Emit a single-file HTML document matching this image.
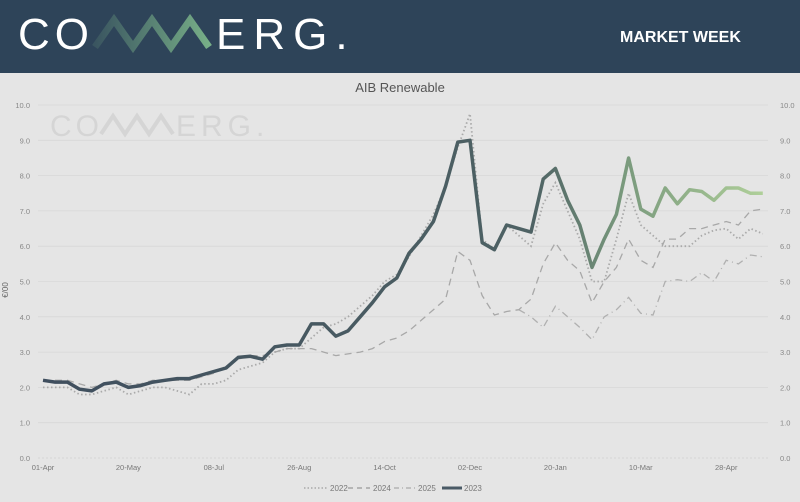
<!DOCTYPE html>
<html><head><meta charset="utf-8"><style>
body{margin:0;width:800px;height:497px;background:#e5e5e5;font-family:"Liberation Sans",sans-serif;overflow:hidden}
</style></head><body>
<svg width="800" height="497" xmlns="http://www.w3.org/2000/svg" font-family="Liberation Sans, sans-serif">
<defs>
<linearGradient id="lg" gradientUnits="userSpaceOnUse" x1="95" y1="0" x2="210" y2="0"><stop offset="0" stop-color="#3a5560"/><stop offset="1" stop-color="#78b088"/></linearGradient>
<linearGradient id="sg" gradientUnits="userSpaceOnUse" x1="43" y1="0" x2="765" y2="0">
<stop offset="0" stop-color="#3f4e5e"/><stop offset="0.68" stop-color="#4e6264"/><stop offset="0.8" stop-color="#78987c"/><stop offset="1" stop-color="#b0d09a"/></linearGradient>
</defs>
<rect x="0" y="0" width="800" height="73" fill="#2e4459"/>
<text x="18" y="49" font-size="44" fill="#fff" letter-spacing="5">CO</text>
<polyline points="95,47 114,20 133,47 152,20 171,47 190,20 209,47" fill="none" stroke="url(#lg)" stroke-width="7" stroke-linejoin="miter"/>
<text x="216" y="49" font-size="44" fill="#fff" letter-spacing="8">ERG.</text>
<text x="620" y="42" font-size="16" fill="#fff" font-weight="bold">MARKET WEEK</text>
<text x="400" y="92" font-size="13" fill="#555" text-anchor="middle">AIB Renewable</text>
<text x="50" y="136" font-size="30" fill="#d5d5d5" letter-spacing="4">CO</text>
<polyline points="101,134 113,116 125,134 137,116 149,134 161,116 173,134" fill="none" stroke="#d5d5d5" stroke-width="4"/>
<text x="176" y="136" font-size="30" fill="#d5d5d5" letter-spacing="5">ERG.</text>
<g id="grid"></g>
<g id="series"></g>
<text x="8" y="290" font-size="8" fill="#666" transform="rotate(-90 8 290)" text-anchor="middle">€/00</text>
<g font-size="8" fill="#777">
<line x1="304" y1="488" x2="328" y2="488" stroke="#aaa" stroke-width="1.5" stroke-dasharray="1.5,2"/><text x="330" y="491">2022</text>
<line x1="348" y1="488" x2="370" y2="488" stroke="#999" stroke-width="1.2" stroke-dasharray="5,4"/><text x="373" y="491">2024</text>
<line x1="394" y1="488" x2="416" y2="488" stroke="#aaa" stroke-width="1.2" stroke-dasharray="5,3,1,3"/><text x="418" y="491">2025</text>
<line x1="442" y1="488" x2="462" y2="488" stroke="#4a5a66" stroke-width="3"/><text x="464" y="491">2023</text>
</g>
</svg>
<script>
const X=i=>43+i*12.2, Y=v=>458-v*35.3;
let g=document.getElementById('grid'),h='';
for(let v=0;v<=10;v++){let y=Y(v);h+=`<line x1="38" x2="768" y1="${y}" y2="${y}" stroke="${v==0?'#d0d0d0':'#d8d8d8'}" stroke-width="0.8" ${v==0?'stroke-dasharray="2,2"':''}/>`;
h+=`<text x="30" y="${y+3}" font-size="7.5" fill="#888" text-anchor="end">${v.toFixed(1)}</text><text x="780" y="${y+3}" font-size="7.5" fill="#888">${v.toFixed(1)}</text>`;}
const lab=["01-Apr","20-May","08-Jul","26-Aug","14-Oct","02-Dec","20-Jan","10-Mar","28-Apr"];
lab.forEach((l,k)=>{h+=`<text x="${X(k*7)}" y="470" font-size="7.5" fill="#777" text-anchor="middle">${l}</text>`});
g.innerHTML=h;
const s23=[2.2,2.15,2.15,1.95,1.9,2.1,2.15,2.0,2.05,2.15,2.2,2.25,2.25,2.35,2.45,2.55,2.85,2.88,2.8,3.15,3.2,3.2,3.8,3.8,3.45,3.6,4.0,4.4,4.85,5.1,5.8,6.2,6.7,7.7,8.95,9.0,6.1,5.9,6.6,6.5,6.4,7.9,8.2,7.3,6.6,5.4,6.2,6.9,8.5,7.05,6.85,7.65,7.2,7.6,7.55,7.3,7.65,7.65,7.5,7.5];
const s22=[2.0,2.0,2.0,1.8,1.8,1.9,2.0,1.8,1.9,2.0,2.0,1.9,1.8,2.1,2.1,2.2,2.5,2.6,2.7,3.0,3.1,3.1,3.4,3.7,3.8,4.0,4.3,4.6,5.0,5.2,5.7,6.3,6.9,7.7,8.8,9.75,6.2,5.9,6.6,6.3,6.0,7.2,7.8,7.0,6.2,5.0,5.0,6.2,7.5,6.6,6.3,6.0,6.0,6.0,6.3,6.45,6.5,6.2,6.5,6.35];
const s24=[2.2,2.2,2.2,2.1,2.0,2.1,2.2,2.1,2.1,2.2,2.2,2.2,2.2,2.3,2.4,2.6,2.8,2.9,2.9,3.0,3.1,3.1,3.1,3.0,2.9,2.95,3.0,3.1,3.3,3.4,3.6,3.9,4.2,4.5,5.85,5.6,4.6,4.05,4.15,4.2,4.5,5.5,6.1,5.6,5.3,4.4,5.0,5.4,6.2,5.6,5.4,6.2,6.2,6.5,6.5,6.6,6.7,6.6,7.0,7.05];
const s25=[];for(let i=0;i<39;i++)s25.push(null);
[4.2,4.0,3.7,4.3,4.0,3.7,3.35,4.0,4.2,4.55,4.1,4.05,5.0,5.05,5.0,5.25,5.0,5.6,5.5,5.75,5.7].forEach(v=>s25.push(v));
function path(a){let d='';a.forEach((v,i)=>{if(v==null)return;d+=(d?'L':'M')+X(i).toFixed(1)+','+Y(v).toFixed(1)});return d}
document.getElementById('series').innerHTML=`<path d="${path(s25)}" fill="none" stroke="#b0b0b0" stroke-width="1.3" stroke-dasharray="7,4,1,4"/>
<path d="${path(s24)}" fill="none" stroke="#a8a8a8" stroke-width="1.3" stroke-dasharray="7,5"/>
<path d="${path(s22)}" fill="none" stroke="#aaa" stroke-width="1.8" stroke-dasharray="1.5,2.5"/>
<path d="${path(s23)}" fill="none" stroke="url(#sg)" stroke-width="3.5" stroke-linejoin="round"/>`;
</script>
</body></html>
